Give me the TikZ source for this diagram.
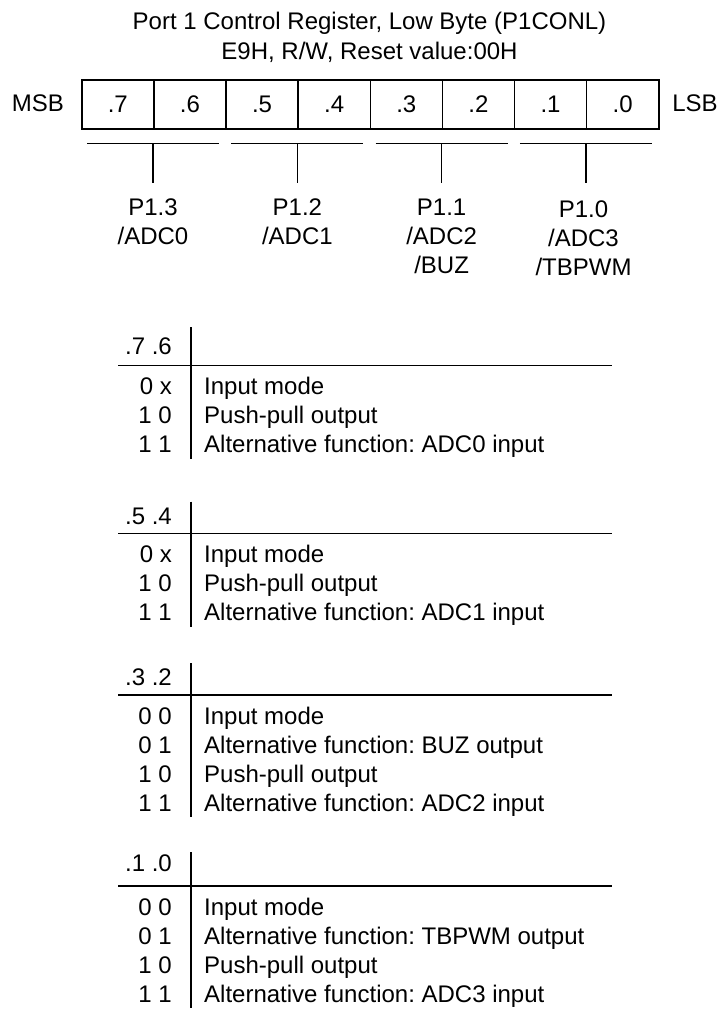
\documentclass[tikz,border=0pt]{standalone}
\usepackage{fontspec}
\setmainfont{Liberation Sans}
\usetikzlibrary{calc}
\frenchspacing
\begin{document}
\begin{tikzpicture}[x=1pt,y=-1pt,
  txt/.style={font=\fontsize{24}{29}\selectfont, inner sep=0pt, text=black},
  rule/.style={line width=1.5pt, draw=black},
  cellbox/.style={txt, draw=black, line width=1.5pt, minimum width=72.125pt, minimum height=49pt, anchor=north west},
  hdr/.style={txt, anchor=base east},
  code/.style={txt, anchor=base east},
  desc/.style={txt, anchor=base west},
  lbl/.style={txt, anchor=base}]
\useasboundingbox (0,0) rectangle (721,1010);

% title
\node[lbl] (title1) at (369.5,29.5) {Port 1 Control Register, Low Byte (P1CONL)};
\node[lbl] (title2) at (369.5,59.3) {E9H, R/W, Reset value:00H};

% register
\foreach \l [count=\i from 0] in {7,6,5,4,3,2,1,0}
  \node[cellbox] (cell\l) at ({81+72.125*\i},79) {.\l};
\node[txt] (msb) at (38,103.5) {MSB};
\node[txt] (lsb) at (695,103.5) {LSB};

% brackets
\foreach \k in {0,1,2,3} {
  \coordinate (bc\k) at ({81+72.125*(2*\k+1)},143.5);
  \draw[rule] ($(bc\k)+(-66,0)$) -- ($(bc\k)+(66,0)$);
  \draw[rule] (bc\k) -- ++(0,39.5);
}

% pin labels
\node[lbl] (p13a) at (153,215) {P1.3};
\node[lbl] (p13b) at (153,244) {/ADC0};
\node[lbl] (p12a) at (297.4,215) {P1.2};
\node[lbl] (p12b) at (297.4,244) {/ADC1};
\node[lbl] (p11a) at (441.6,215) {P1.1};
\node[lbl] (p11b) at (441.6,244) {/ADC2};
\node[lbl] (p11c) at (441.6,273) {/BUZ};
\node[lbl] (p10a) at (583.5,217.5) {P1.0};
\node[lbl] (p10b) at (583.5,246.5) {/ADC3};
\node[lbl] (p10c) at (583.5,275.5) {/TBPWM};

% table 1
\node[hdr] (h1) at (172,354) {.7 .6};
\draw[rule] (118,365.5) -- (612,365.5);
\draw[rule] (191,327) -- (191,458.5);
\node[code] (c1a) at (172,394.5) {0 x};
\node[desc] (d1a) at (204,394.5) {Input mode};
\node[code] (c1b) at (172,423.5) {1 0};
\node[desc] (d1b) at (204,423.5) {Push-pull output};
\node[code] (c1c) at (172,452.5) {1 1};
\node[desc] (d1c) at (204,452.5) {Alternative function: ADC0 input};

% table 2
\node[hdr] (h2) at (172,524) {.5 .4};
\draw[rule] (118,533.5) -- (612,533.5);
\draw[rule] (191,501.5) -- (191,626.5);
\node[code] (c2a) at (172,562.5) {0 x};
\node[desc] (d2a) at (204,562.5) {Input mode};
\node[code] (c2b) at (172,591.5) {1 0};
\node[desc] (d2b) at (204,591.5) {Push-pull output};
\node[code] (c2c) at (172,620.5) {1 1};
\node[desc] (d2c) at (204,620.5) {Alternative function: ADC1 input};

% table 3
\node[hdr] (h3) at (172,685.5) {.3 .2};
\draw[rule] (118,695) -- (612,695);
\draw[rule] (191,663) -- (191,817);
\node[code] (c3a) at (172,724) {0 0};
\node[desc] (d3a) at (204,724) {Input mode};
\node[code] (c3b) at (172,753) {0 1};
\node[desc] (d3b) at (204,753) {Alternative function: BUZ output};
\node[code] (c3c) at (172,782) {1 0};
\node[desc] (d3c) at (204,782) {Push-pull output};
\node[code] (c3d) at (172,811) {1 1};
\node[desc] (d3d) at (204,811) {Alternative function: ADC2 input};

% table 4
\node[hdr] (h4) at (172,871.5) {.1 .0};
\draw[rule] (118,886) -- (612,886);
\draw[rule] (191,852) -- (191,1008);
\node[code] (c4a) at (172,915) {0 0};
\node[desc] (d4a) at (204,915) {Input mode};
\node[code] (c4b) at (172,944) {0 1};
\node[desc] (d4b) at (204,944) {Alternative function: TBPWM output};
\node[code] (c4c) at (172,973) {1 0};
\node[desc] (d4c) at (204,973) {Push-pull output};
\node[code] (c4d) at (172,1002) {1 1};
\node[desc] (d4d) at (204,1002) {Alternative function: ADC3 input};
\end{tikzpicture}
\end{document}
